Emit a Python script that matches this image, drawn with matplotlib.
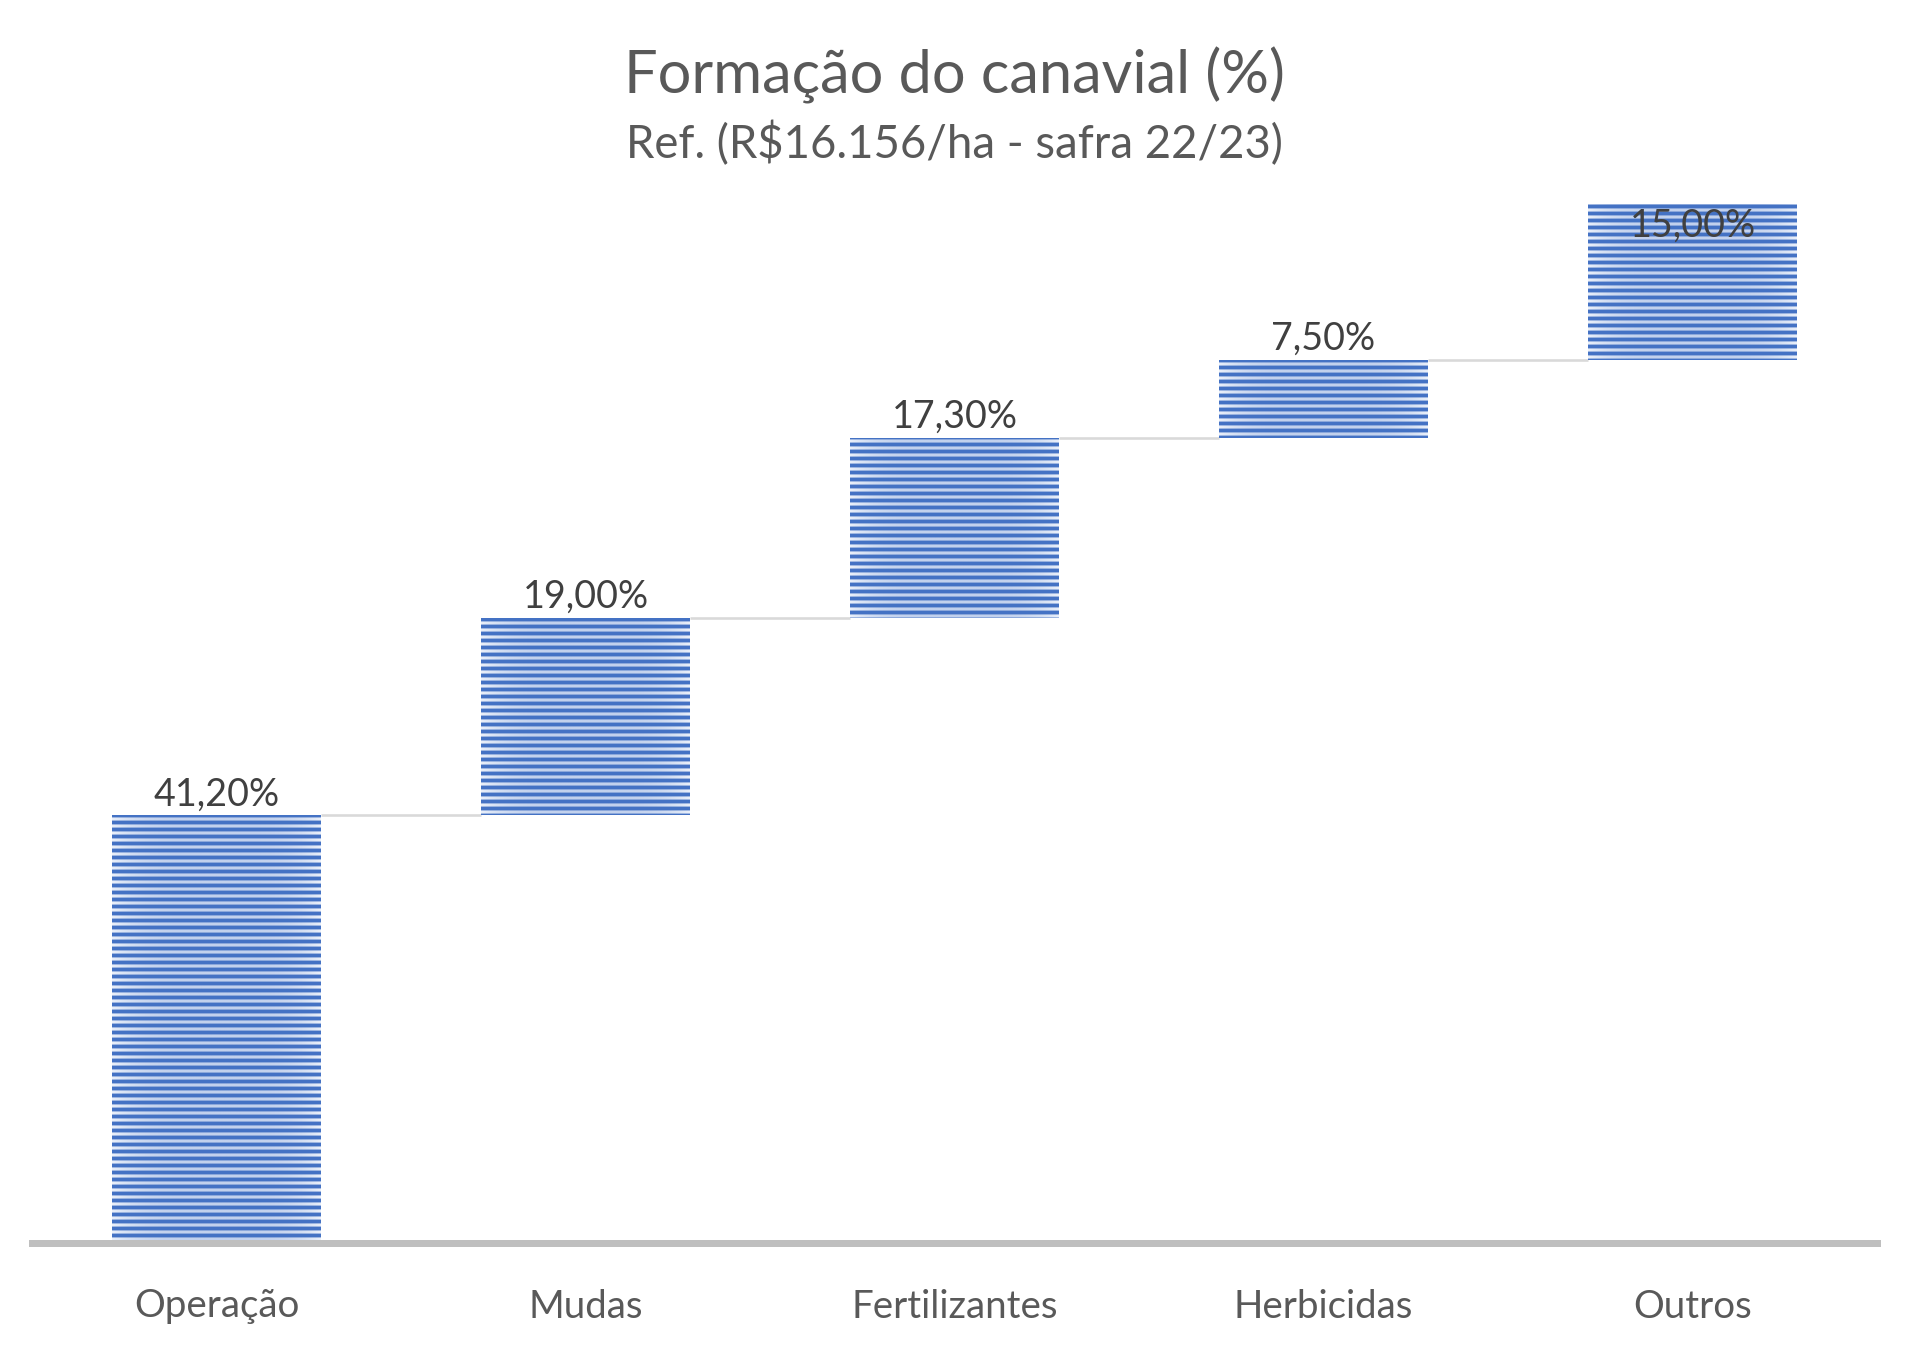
import matplotlib

matplotlib.use("Agg")
import matplotlib.pyplot as plt
import numpy as np
from matplotlib.colors import LinearSegmentedColormap

categories = ["Operação", "Mudas", "Fertilizantes", "Herbicidas", "Outros"]
shares = [41.20, 19.00, 17.30, 7.50, 15.00]
title = "Formação do canavial (%)"
subtitle = "Ref. (R$16.156/ha - safra 22/23)"

DARK = "#4472C4"
fill_cmap = LinearSegmentedColormap.from_list("fill", ["#C2D1ED", "#EAF0FA"])

plt.rcParams["font.family"] = ["Lato", "DejaVu Sans"]
plt.rcParams["hatch.linewidth"] = 2.2

dpi = 126
fig = plt.figure(figsize=(1909 / dpi, 1351 / dpi), dpi=dpi)
ax = fig.add_axes([32 / 1909, 1 - 1243 / 1351, 1845 / 1909, 1039 / 1351])

x = np.arange(len(categories))
values = np.array(shares)
bottoms = np.concatenate([[0], np.cumsum(values)[:-1]])
tops = bottoms + values
width = 0.565

bars = ax.bar(x, values, width, bottom=bottoms, facecolor="none", edgecolor=DARK,
              hatch="---", linewidth=0, zorder=3)

# light fill, whiter towards the bar sides
profile = np.abs(np.linspace(-1, 1, 200)) ** 4
for b in bars:
    bx, by = b.get_x(), b.get_y()
    img = ax.imshow(profile[None, :], cmap=fill_cmap, vmin=0, vmax=1, aspect="auto",
                    extent=[bx, bx + b.get_width(), by, by + b.get_height()],
                    interpolation="bilinear", zorder=2)
    img.set_clip_path(b)

# connector lines between steps
for i in range(len(x) - 1):
    ax.plot([x[i] + width / 2, x[i + 1] - width / 2], [tops[i], tops[i]],
            color="#D9D9D9", lw=1.5, zorder=1, solid_capstyle="butt")

for i, (v, t) in enumerate(zip(values, tops)):
    label = f"{v:.2f}%".replace(".", ",")
    if t >= 99:
        ax.annotate(label, (x[i], t), xytext=(0, -2), textcoords="offset points",
                    ha="center", va="top", fontsize=21.5, color="#404040", zorder=5)
    else:
        ax.annotate(label, (x[i], t), xytext=(0, 5.5), textcoords="offset points",
                    ha="center", va="baseline", fontsize=21.5, color="#404040", zorder=5)

ax.set_xlim(-0.5, len(x) - 0.5)
ax.set_ylim(0, 100)
ax.set_xticks(x)
ax.set_xticklabels(categories, fontsize=22, color="#595959")
ax.tick_params(axis="x", length=0, pad=26)
ax.set_yticks([])
for side in ["top", "right", "left"]:
    ax.spines[side].set_visible(False)
ax.spines["bottom"].set_color("#BFBFBF")
ax.spines["bottom"].set_linewidth(4)
ax.spines["bottom"].set_zorder(4)

fig.text(0.5, 1 - 75 / 1351, title, ha="center", va="center", fontsize=34, color="#595959")
fig.text(0.5, 1 - 144 / 1351, subtitle, ha="center", va="center", fontsize=26, color="#595959")

fig.savefig("out.png", dpi=dpi)
